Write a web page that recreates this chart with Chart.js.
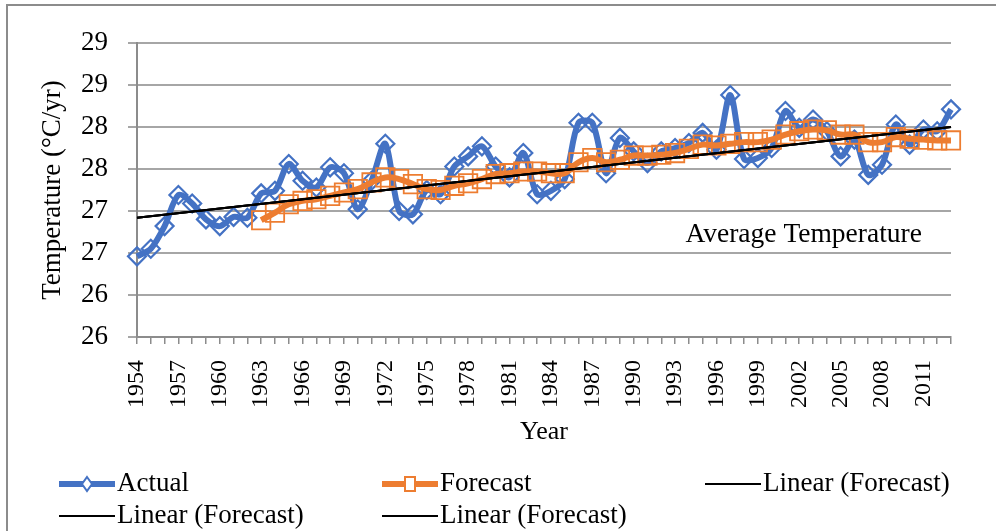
<!DOCTYPE html>
<html lang="en">
<head>
    <meta charset="UTF-8">
    <title>Average Temperature</title>
    <script src="https://cdn.jsdelivr.net/npm/chart.js"></script>
    <style>
        * { margin: 0; padding: 0; box-sizing: border-box; }
        body { background: #fff; }
        .wrap { width: 996px; height: 531px; }
    </style>
</head>
<body>
    <div class="wrap">
        <canvas id="tempChart" width="996" height="531"></canvas>
    </div>

    <script>
        // Data
        const years = [
            '1954','1955','1956','1957','1958','1959','1960','1961','1962','1963',
            '1964','1965','1966','1967','1968','1969','1970','1971','1972','1973',
            '1974','1975','1976','1977','1978','1979','1980','1981','1982','1983',
            '1984','1985','1986','1987','1988','1989','1990','1991','1992','1993',
            '1994','1995','1996','1997','1998','1999','2000','2001','2002','2003',
            '2004','2005','2006','2007','2008','2009','2010','2011','2012','2013'
        ];

        const actual = [
            26.46, 26.55, 26.82, 27.19, 27.09, 26.90, 26.82, 26.93, 26.92, 27.21,
            27.24, 27.56, 27.36, 27.28, 27.52, 27.45, 27.02, 27.36, 27.80, 27.00,
            26.96, 27.25, 27.20, 27.53, 27.65, 27.77, 27.53, 27.40, 27.69, 27.20,
            27.24, 27.38, 28.05, 28.05, 27.45, 27.87, 27.71, 27.57, 27.71, 27.75,
            27.81, 27.93, 27.73, 28.38, 27.62, 27.63, 27.75, 28.19, 27.99, 28.09,
            27.95, 27.65, 27.85, 27.43, 27.55, 28.03, 27.79, 27.97, 27.95, 28.21
        ];

        const forecast = [
            null, null, null, null, null, null, null, null, null, 26.89,
            26.98, 27.08, 27.12, 27.14, 27.18, 27.22, 27.26, 27.34, 27.40, 27.38,
            27.32, 27.26, 27.25, 27.30, 27.33, 27.38, 27.44, 27.45, 27.47, 27.47,
            27.45, 27.45, 27.58, 27.63, 27.58, 27.61, 27.66, 27.66, 27.67, 27.69,
            27.74, 27.79, 27.78, 27.80, 27.82, 27.82, 27.85, 27.91, 27.95, 27.97,
            27.96, 27.91, 27.91, 27.82, 27.82, 27.88, 27.86, 27.85, 27.84, 27.84
        ];

        // trend line end points (first and last year)
        const trendEnds = [26.92, 28.00];

        // y axis: 25.5 .. 29.0 by 0.5, shown rounded like the original
        const yMin = 25.5;
        const yMax = 29.0;
        const yStep = 0.5;

        const trend = years.map((y, i) =>
            i === 0 ? trendEnds[0] : (i === years.length - 1 ? trendEnds[1] : null));

        const BLUE = '#4472C4';
        const ORANGE = '#ED7D31';
        const SERIF = "'Liberation Serif', 'Times New Roman', serif";

        Chart.defaults.font.family = SERIF;
        Chart.defaults.color = '#000';

        // white background + outer frame
        const frame = {
            id: 'frame',
            beforeDraw(chart) {
                const ctx = chart.ctx;
                ctx.save();
                ctx.fillStyle = '#fff';
                ctx.fillRect(0, 0, chart.width, chart.height);
                ctx.strokeStyle = '#8c8c8c';
                ctx.lineWidth = 2;
                ctx.strokeRect(7, 5, chart.width + 20, chart.height + 20);
                ctx.restore();
            }
        };

        // chart title sits inside the plot area
        const innerTitle = {
            id: 'innerTitle',
            afterDatasetsDraw(chart) {
                const a = chart.chartArea;
                const ctx = chart.ctx;
                ctx.save();
                ctx.font = '27.5px ' + SERIF;
                ctx.fillStyle = '#000';
                ctx.textAlign = 'center';
                ctx.textBaseline = 'middle';
                ctx.fillText('Average Temperature', a.left + (a.right - a.left) * 0.819, a.top + 192);
                ctx.restore();
            }
        };

        // Excel style legend: fixed columns, two rows
        const gridLegend = {
            id: 'gridLegend',
            afterDraw(chart) {
                const ctx = chart.ctx;
                ctx.save();
                ctx.font = '27px ' + SERIF;
                ctx.textBaseline = 'middle';
                chart.data.datasets.forEach((ds, k) => {
                    const tx = 117 + (k % 3) * 323;
                    const y = 484 + Math.floor(k / 3) * 32;
                    ctx.strokeStyle = ds.borderColor;
                    ctx.lineWidth = ds.borderWidth;
                    ctx.beginPath();
                    ctx.moveTo(tx - 58, y);
                    ctx.lineTo(tx - 2, y);
                    ctx.stroke();
                    const cx = tx - 30;
                    ctx.lineWidth = 2;
                    ctx.fillStyle = '#fff';
                    if (ds.pointStyle === 'rectRot') {
                        ctx.beginPath();
                        ctx.moveTo(cx, y - 7);
                        ctx.lineTo(cx + 5, y);
                        ctx.lineTo(cx, y + 7);
                        ctx.lineTo(cx - 5, y);
                        ctx.closePath();
                        ctx.fill();
                        ctx.stroke();
                    } else if (ds.pointStyle === 'rect') {
                        ctx.fillRect(cx - 5, y - 7, 10, 14);
                        ctx.strokeRect(cx - 5, y - 7, 10, 14);
                    }
                    ctx.fillStyle = '#000';
                    ctx.fillText(ds.label, tx, y);
                });
                ctx.restore();
            }
        };

        const trendStyle = {
            borderColor: '#000',
            borderWidth: 2,
            pointRadius: 0,
            pointHoverRadius: 0,
            spanGaps: true,
            tension: 0,
            order: 1
        };

        new Chart(document.getElementById('tempChart'), {
            type: 'line',
            data: {
                labels: years,
                datasets: [
                    {
                        label: 'Actual',
                        data: actual,
                        borderColor: BLUE,
                        borderWidth: 6,
                        pointStyle: 'rectRot',
                        pointRadius: 9,
                        pointBorderWidth: 2.2,
                        pointBorderColor: BLUE,
                        pointBackgroundColor: 'rgba(0,0,0,0)',
                        tension: 0.3,
                        order: 3
                    },
                    {
                        label: 'Forecast',
                        data: forecast,
                        borderColor: ORANGE,
                        borderWidth: 6,
                        pointStyle: 'rect',
                        pointRadius: 13,
                        pointBorderWidth: 1.8,
                        pointBorderColor: ORANGE,
                        pointBackgroundColor: 'rgba(0,0,0,0)',
                        tension: 0.4,
                        order: 2
                    },
                    { label: 'Linear (Forecast)', data: trend, ...trendStyle },
                    { label: 'Linear (Forecast)', data: trend, ...trendStyle },
                    { label: 'Linear (Forecast)', data: trend, ...trendStyle }
                ]
            },
            options: {
                responsive: false,
                animation: false,
                layout: { padding: { top: 43, right: 45, bottom: 76, left: 0 } },
                plugins: {
                    legend: { display: false },
                    tooltip: { enabled: false },
                    title: { display: false }
                },
                scales: {
                    x: {
                        offset: false,
                        afterFit: s => { s.height = 118; },
                        grid: {
                            drawOnChartArea: false,
                            drawTicks: true,
                            tickLength: 7,
                            color: '#8c8c8c',
                            lineWidth: 1.5
                        },
                        border: { color: '#8c8c8c', width: 2 },
                        ticks: {
                            autoSkip: false,
                            maxRotation: 90,
                            minRotation: 90,
                            padding: 16,
                            font: { size: 24 },
                            callback: (v, i) => (i % 3 === 0 ? years[i] : '')
                        },
                        title: {
                            display: true,
                            text: 'Year',
                            font: { size: 26 },
                            padding: { top: 0, bottom: 7 }
                        }
                    },
                    y: {
                        min: yMin,
                        max: yMax,
                        afterFit: s => { s.width = 137; },
                        grid: {
                            color: '#a6a6a6',
                            lineWidth: 2,
                            tickLength: 9
                        },
                        border: { color: '#8c8c8c', width: 2 },
                        ticks: {
                            stepSize: yStep,
                            padding: 20,
                            font: { size: 27 },
                            callback: v => Math.round(v)
                        },
                        title: {
                            display: true,
                            text: 'Temperature (°C/yr)',
                            font: { size: 27 },
                            padding: { top: 37, bottom: 0 }
                        }
                    }
                }
            },
            plugins: [frame, innerTitle, gridLegend]
        });
    </script>
</body>
</html>
